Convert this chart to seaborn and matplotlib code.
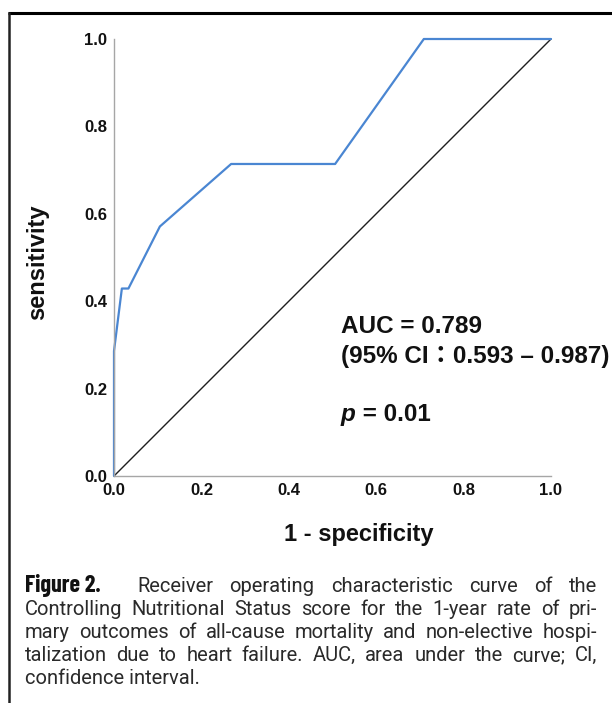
import matplotlib
matplotlib.use("Agg")
import numpy as np
import pandas as pd
import matplotlib.pyplot as plt
import seaborn as sns
from matplotlib.lines import Line2D
from matplotlib.font_manager import FontProperties

# ---------------- data ----------------
fpr = [0.0, 0.0, 0.018, 0.033, 0.105, 0.268, 0.506, 0.709, 1.0]
tpr = [0.0, 0.286, 0.429, 0.429, 0.571, 0.714, 0.714, 1.0, 1.0]
ref_x = [0.0, 1.0]
ref_y = [0.0, 1.0]
ticks = [0.0, 0.2, 0.4, 0.6, 0.8, 1.0]
tick_labels = ["0.0", "0.2", "0.4", "0.6", "0.8", "1.0"]
x_label = "1 - specificity"
y_label = "sensitivity"
auc_text = "AUC = 0.789"
ci_text = "(95% CI\uff1a0.593 \u2013 0.987)"
p_text = " = 0.01"
fig_label = "Figure 2."
caption_lines = [
    "Receiver operating characteristic curve of the",
    "Controlling Nutritional Status score for the 1-year rate of pri-",
    "mary outcomes of all-cause mortality and non-elective hospi-",
    "talization due to heart failure. AUC, area under the curve; CI,",
    "confidence interval.",
]

# ---------------- setup ----------------
sns.set_theme(style="white")
plt.rcParams["font.family"] = ["Liberation Sans"]

W, H = 612, 703
fig = plt.figure(figsize=(W / 100, H / 100), dpi=100)
renderer = fig.canvas.get_renderer()


def fx(px):
    return px / W


def fy(py):
    return 1 - py / H


def tw(s, fp):
    w, h, d = renderer.get_text_width_height_descent(s, fp, ismath=False)
    return w


ax = fig.add_axes([fx(114), fy(476), 437 / W, 437 / H])

roc = pd.DataFrame({"fpr": fpr, "tpr": tpr})
diag = pd.DataFrame({"x": ref_x, "y": ref_y})
sns.lineplot(data=diag, x="x", y="y", ax=ax, color="#1e1e1e", linewidth=1.0,
             sort=False, estimator=None, clip_on=False)
sns.lineplot(data=roc, x="fpr", y="tpr", ax=ax, color="#4a86d2", linewidth=1.6,
             sort=False, estimator=None, clip_on=False)

fp_tick = FontProperties(family="Liberation Sans", weight="bold", size=12)
ax.set_xlim(0, 1)
ax.set_ylim(0, 1)
ax.set_xticks(ticks)
ax.set_yticks(ticks)
ax.set_xticklabels(tick_labels, fontproperties=fp_tick, color="#111")
ax.set_yticklabels(tick_labels, fontproperties=fp_tick, color="#111")
ax.tick_params(axis="x", length=0, pad=5)
ax.tick_params(axis="y", length=0, pad=5)
ax.set_xlabel("")
ax.set_ylabel("")
for s in ["top", "right"]:
    ax.spines[s].set_visible(False)
for s in ["left", "bottom"]:
    ax.spines[s].set_color("#a6a6a6")
    ax.spines[s].set_linewidth(1.0)
ax.grid(False)

fp_lab = FontProperties(family="Liberation Sans", weight="bold", size=17)
fp_ann = FontProperties(family="Liberation Sans", weight="bold", size=17.5)

# axis labels
fig.text(fx(359), fy(534), x_label, ha="center", va="center",
         fontproperties=fp_lab, color="#111")
fig.text(fx(38), fy(262), y_label, ha="center", va="center", rotation=90,
         fontproperties=fp_lab, color="#111")

# annotations
fig.text(fx(341), fy(333), auc_text, ha="left", va="baseline",
         fontproperties=fp_ann, color="#111")
fig.text(fx(341), fy(363), ci_text, ha="left", va="baseline",
         fontsize=17.5, fontweight="bold", color="#111",
         family=["Liberation Sans", "Noto Sans CJK TC"])
fp_p = FontProperties(family="Liberation Sans", weight="bold", style="italic", size=17.5)
fig.text(fx(341), fy(421), "p", ha="left", va="baseline",
         fontproperties=fp_p, color="#111")
pw = tw("p", fp_p)
fig.text(fx(341 + pw), fy(421), p_text, ha="left", va="baseline",
         fontproperties=fp_ann, color="#111")

# frame around figure (cropped at right/bottom)
fig.add_artist(Line2D([fx(8), 1.0], [fy(13), fy(13)], transform=fig.transFigure,
                      color="black", linewidth=2.2, solid_capstyle="butt"))
fig.add_artist(Line2D([fx(9), fx(9)], [fy(12), 0.0], transform=fig.transFigure,
                      color="#222", linewidth=1.8, solid_capstyle="butt"))

# ---------------- caption ----------------
cap_family = ["Roboto", "Liberation Sans"]
fig_family = ["Liberation Sans Narrow", "Barlow Condensed", "Roboto"]

left, right = 25, 597
size = 14.5
for _ in range(40):
    fp = FontProperties(family=cap_family, weight="normal", size=size)
    w = tw(caption_lines[1], fp)
    target = (right - left) - 4
    if w <= target + 0.5:
        break
    size *= target / w
fp_cap = FontProperties(family=cap_family, weight="normal", size=size)

fsz = 14.0
for _ in range(40):
    fpb = FontProperties(family=fig_family, weight="bold", size=fsz)
    w = tw(fig_label, fpb)
    if abs(w - 76) < 0.8:
        break
    fsz *= 76 / w
fp_fig = FontProperties(family=fig_family, weight="bold", size=fsz)

baselines = [592, 615, 638, 661, 684]


def justify(words, x0, x1, yb):
    widths = [tw(wd, fp_cap) for wd in words]
    gap = (x1 - x0 - sum(widths)) / (len(words) - 1)
    x = x0
    for wd, wdw in zip(words, widths):
        fig.text(fx(x), fy(yb), wd, ha="left", va="baseline",
                 fontproperties=fp_cap, color="#2a2a2a")
        x += wdw + gap


fig.text(fx(left), fy(baselines[0]), fig_label, ha="left", va="baseline",
         fontproperties=fp_fig, color="#111")
justify(caption_lines[0].split(), 137, right, baselines[0])
for i in range(1, 4):
    justify(caption_lines[i].split(), left, right, baselines[i])
fig.text(fx(left), fy(baselines[4]), caption_lines[4], ha="left", va="baseline",
         fontproperties=fp_cap, color="#2a2a2a")

fig.savefig("out.png", dpi=100, facecolor="white")
